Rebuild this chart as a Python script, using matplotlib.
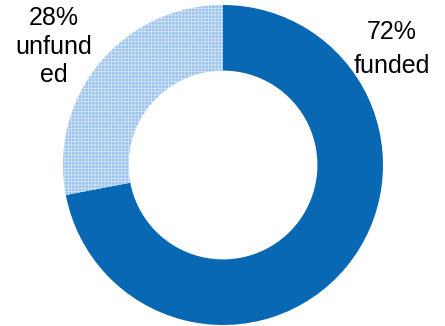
import matplotlib
matplotlib.use("Agg")
import matplotlib.pyplot as plt

labels = ["72%\nfunded", "28%\nunfund\ned"]
values = [72, 28]

plt.rcParams['font.family'] = ['Liberation Sans', 'DejaVu Sans']
plt.rcParams['hatch.color'] = '#d8e8f8'
plt.rcParams['hatch.linewidth'] = 0.5

fig = plt.figure(figsize=(4.45, 3.26), dpi=100)
ax = fig.add_axes([63/445, 1/326, 320/445, 320/326])
wedges, _ = ax.pie(values, startangle=90, counterclock=False, radius=1,
                   wedgeprops=dict(width=0.41, linewidth=0),
                   colors=['#0868b4', '#9cc4ec'])
wedges[1].set_hatch('+++++')
ax.set_xlim(-1, 1)
ax.set_ylim(-1, 1)
ax.set_aspect('auto')
ax.axis('off')

# label line baselines (px from top) and centers
label_pos = [(392, [39, 73]), (54, [25, 54, 82])]
for lab, (cx, bases) in zip(labels, label_pos):
    for line, b in zip(lab.split("\n"), bases):
        fig.text(cx/445, 1 - b/326, line, ha='center', va='baseline', fontsize=18)

fig.savefig("out.png", dpi=100)
